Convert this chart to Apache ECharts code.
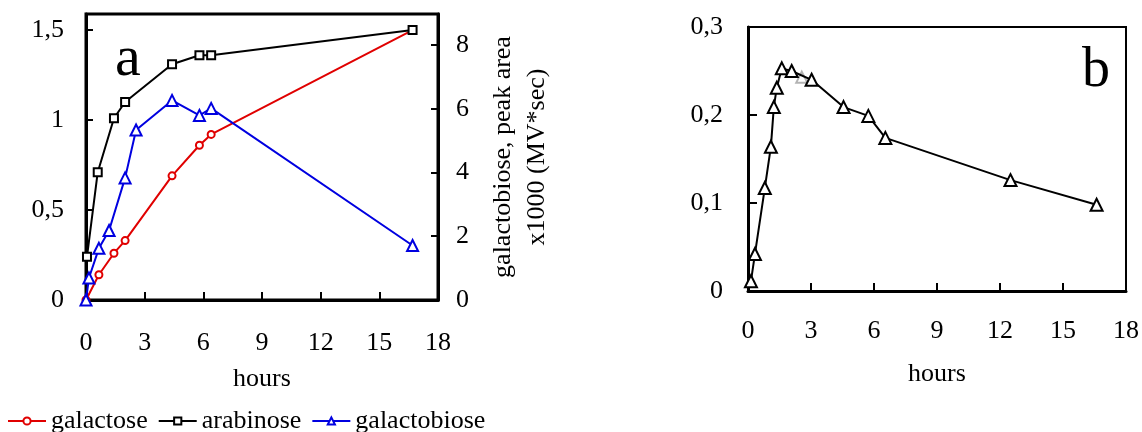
<!DOCTYPE html>
<html>
<head>
<meta charset="utf-8">
<script src="https://cdn.jsdelivr.net/npm/echarts@6/dist/echarts.min.js"></script>
<style>
  html, body { margin: 0; padding: 0; background: #fff; }
  #chart { width: 1142px; height: 432px; }
</style>
</head>
<body>
<div id="chart"></div>
<script>
// panel a: sugars released over time (hours)
const galactoseHours = [0, 0.66, 1.43, 2.0, 4.4, 5.8, 6.4, 16.7];
const galactoseValues = [0, 0.14, 0.26, 0.33, 0.69, 0.86, 0.92, 1.5];
const arabinoseHours = [0.05, 0.6, 1.43, 2.0, 4.4, 5.8, 6.4, 16.7];
const arabinoseValues = [0.24, 0.71, 1.01, 1.1, 1.31, 1.36, 1.36, 1.5];
const galactobioseHours = [0, 0.15, 0.66, 1.18, 2.0, 2.56, 4.4, 5.8, 6.4, 16.7];
const galactobioseValues = [0, 0.69, 1.62, 2.18, 3.83, 5.33, 6.26, 5.79, 6.01, 1.71];

// panel b
const panelBHours = [0.14, 0.33, 0.8, 1.09, 1.23, 1.37, 1.61, 2.08, 3.03, 4.55, 5.73, 6.54, 12.5, 16.6];
const panelBValues = [0.011, 0.042, 0.117, 0.164, 0.209, 0.231, 0.253, 0.25, 0.24, 0.209, 0.199, 0.174, 0.126, 0.098];
const greyHours = [2.56];
const greyValues = [0.243];

let pairs = (xs, ys) => xs.map((x, i) => [x, ys[i]]);
let comma = (v) => String(+v.toFixed(2)).replace(".", ",");

const FONT = "Liberation Serif";
const txt = { color: "#000", fontFamily: FONT, fontSize: 26 };

let xAxisFor = (gridIndex, labelMargin, nameGap) => ({
  type: "value", gridIndex: gridIndex, min: 0, max: 18, interval: 3,
  name: "hours", nameLocation: "middle", nameGap: nameGap,
  nameTextStyle: txt,
  axisLine: { show: true, onZero: false, lineStyle: { color: "#000", width: 3 } },
  axisTick: { show: true, inside: true, length: 8, lineStyle: { color: "#000", width: 2 } },
  axisLabel: Object.assign({ margin: labelMargin }, txt),
  splitLine: { show: false }
});

let chart = echarts.init(document.getElementById("chart"), null, { renderer: "canvas" });

chart.setOption({
  animation: false,
  backgroundColor: "#fff",
  grid: [
    { left: 86, top: 14, right: 704, bottom: 132, show: true, borderColor: "#000", borderWidth: 3, containLabel: false },
    { left: 748, top: 27, right: 14, bottom: 141, show: true, borderColor: "#000", borderWidth: 2, containLabel: false }
  ],
  legend: {
    left: 2, top: 403,
    itemWidth: 38, itemHeight: 9, itemGap: 10,
    textStyle: txt,
    data: ["galactose", "arabinose", "galactobiose"]
  },
  xAxis: [xAxisFor(0, 30, 66), xAxisFor(1, 27, 70)],
  yAxis: [
    {
      type: "value", gridIndex: 0, min: 0, max: 1.589, interval: 0.5,
      axisLine: { show: true, lineStyle: { color: "#000", width: 3 } },
      axisTick: { show: true, inside: true, length: 7, lineStyle: { color: "#000", width: 2 } },
      axisLabel: Object.assign({ margin: 22, showMaxLabel: false, formatter: comma }, txt),
      splitLine: { show: false }
    },
    {
      type: "value", gridIndex: 0, position: "right", min: 0, max: 8.97, interval: 2,
      name: "galactobiose, peak area\nx1000 (MV*sec)",
      nameLocation: "middle", nameRotate: 90, nameGap: 48,
      nameTextStyle: Object.assign({ lineHeight: 34 }, txt),
      axisLine: { show: true, lineStyle: { color: "#000", width: 3 } },
      axisTick: { show: true, inside: true, length: 7, lineStyle: { color: "#000", width: 2 } },
      axisLabel: Object.assign({ margin: 18, showMaxLabel: false }, txt),
      splitLine: { show: false }
    },
    {
      type: "value", gridIndex: 1, min: 0, max: 0.3, interval: 0.1,
      axisLine: { show: true, lineStyle: { color: "#000", width: 3 } },
      axisTick: { show: true, inside: true, length: 9, lineStyle: { color: "#000", width: 2 } },
      axisLabel: Object.assign({ margin: 25, formatter: comma }, txt),
      splitLine: { show: false }
    }
  ],
  series: [
    {
      name: "galactose", type: "line", xAxisIndex: 0, yAxisIndex: 0,
      data: pairs(galactoseHours, galactoseValues),
      symbol: "circle", symbolSize: 7,
      lineStyle: { color: "#e00000", width: 2 },
      itemStyle: { color: "#fff", borderColor: "#e00000", borderWidth: 2 }
    },
    {
      name: "arabinose", type: "line", xAxisIndex: 0, yAxisIndex: 0,
      data: pairs(arabinoseHours, arabinoseValues),
      symbol: "rect", symbolSize: 8,
      lineStyle: { color: "#000", width: 2 },
      itemStyle: { color: "#fff", borderColor: "#000", borderWidth: 2 }
    },
    {
      name: "galactobiose", type: "line", xAxisIndex: 0, yAxisIndex: 1,
      data: pairs(galactobioseHours, galactobioseValues),
      symbol: "triangle", symbolSize: 11,
      lineStyle: { color: "#0000e0", width: 2 },
      itemStyle: { color: "#fff", borderColor: "#0000e0", borderWidth: 2 }
    },
    {
      name: "b", type: "line", xAxisIndex: 1, yAxisIndex: 2,
      data: pairs(panelBHours, panelBValues),
      symbol: "triangle", symbolSize: 12,
      lineStyle: { color: "#000", width: 2 },
      itemStyle: { color: "#fff", borderColor: "#000", borderWidth: 2 }
    },
    {
      name: "b grey", type: "scatter", xAxisIndex: 1, yAxisIndex: 2,
      data: pairs(greyHours, greyValues),
      symbol: "triangle", symbolSize: 11,
      itemStyle: { color: "#fff", borderColor: "#a0a0a0", borderWidth: 2 }
    }
  ],
  graphic: [
    { type: "text", left: 115, top: 31, style: { text: "a", fill: "#000", font: "58px " + FONT } },
    { type: "text", left: 1082, top: 43, style: { text: "b", fill: "#000", font: "56px " + FONT } }
  ]
});
</script>
</body>
</html>
